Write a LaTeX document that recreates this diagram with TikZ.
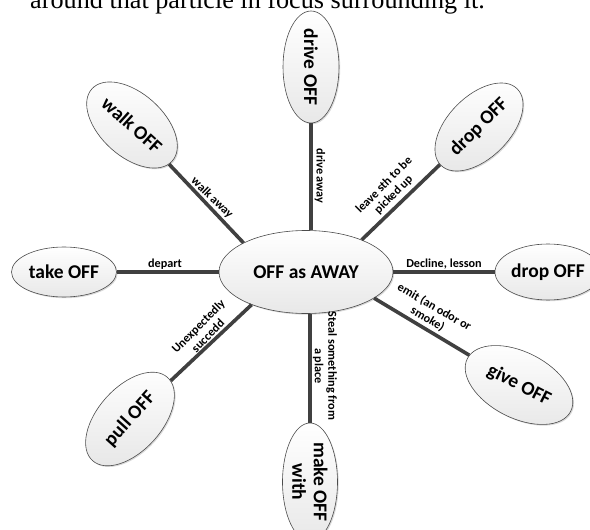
\documentclass[tikz,border=0pt]{standalone}
\usepackage{fontspec}
\setmainfont{Carlito}
\newfontfamily\serifx{Liberation Serif}
\usetikzlibrary{shapes.geometric,shadows}
\tikzset{
  bub/.style={ellipse, draw=black!70, line width=0.6pt, inner sep=0pt,
    top color=white, bottom color=black!9,
    font=\fontsize{19.5}{21.5}\selectfont\bfseries, align=center,
    drop shadow={shadow xshift=1.2pt, shadow yshift=-1.2pt, opacity=0.25, fill=black!60}},
  spoke/.style={line width=3.6pt, draw=black!75},
  lab/.style={font=\fontsize{12.2}{13.5}\selectfont\bfseries, align=center, inner sep=0pt},
}
\begin{document}
\begin{tikzpicture}[x=1pt,y=-1pt]
\useasboundingbox (0,0) rectangle (590,530);
\node[font=\serifx\fontsize{26.2}{30}\selectfont, anchor=base west, inner sep=0pt] (top) at (30,9) {around that particle in focus surrounding it.};

\node[bub, minimum width=174pt, minimum height=83pt] (c) at (306,272) {OFF as AWAY};
\node[bub, rotate=-90, minimum width=112pt, minimum height=56pt] (d) at (311,67) {drive OFF};
\node[bub, rotate=-42, minimum width=108pt, minimum height=63pt] (w) at (132,125) {walk OFF};
\node[bub, rotate=45, minimum width=108pt, minimum height=62pt] (u) at (479,127) {drop OFF};
\node[bub, minimum width=105pt, minimum height=50pt] (t) at (64,272) {take OFF};
\node[bub, minimum width=106pt, minimum height=56pt] (r) at (548,272) {drop OFF};
\node[bub, rotate=-27, minimum width=116pt, minimum height=66pt] (g) at (519,385) {give OFF};
\node[bub, rotate=48, minimum width=112pt, minimum height=64pt] (p) at (130,419) {pull OFF};
\node[bub, rotate=-90, minimum width=118pt, minimum height=55pt] (m) at (310,482) {make OFF\\with};

\draw[spoke] (d.east) -- (d.east |- c.north);
\draw[spoke] (m.west) -- (m.west |- c.south);
\draw[spoke] (t) -- (c);
\draw[spoke] (c) -- (r);
\draw[spoke] (c.155) -- (w);
\draw[spoke] (c.30) -- (u);
\draw[spoke] (c.-21) -- (g);
\draw[spoke] (c.211) -- (p);

\node[lab, rotate=-44] (lw) at (212,198) {walk away};
\node[lab, rotate=-90] (ld) at (320,176) {drive away};
\node[lab, rotate=45] (lu) at (389,190) {leave sth to be\\picked up};
\node[lab] (lt) at (165,264) {depart};
\node[lab] (lr) at (444,264) {Decline, lesson};
\node[lab, rotate=-30] (lg) at (431,313) {emit (an odor or\\smoke)};
\node[lab, rotate=45] (lp) at (203,331) {Unexpectedly\\succedd};
\node[lab, rotate=-90] (lm) at (325,366) {Steal something from\\a place};
\end{tikzpicture}
\end{document}
